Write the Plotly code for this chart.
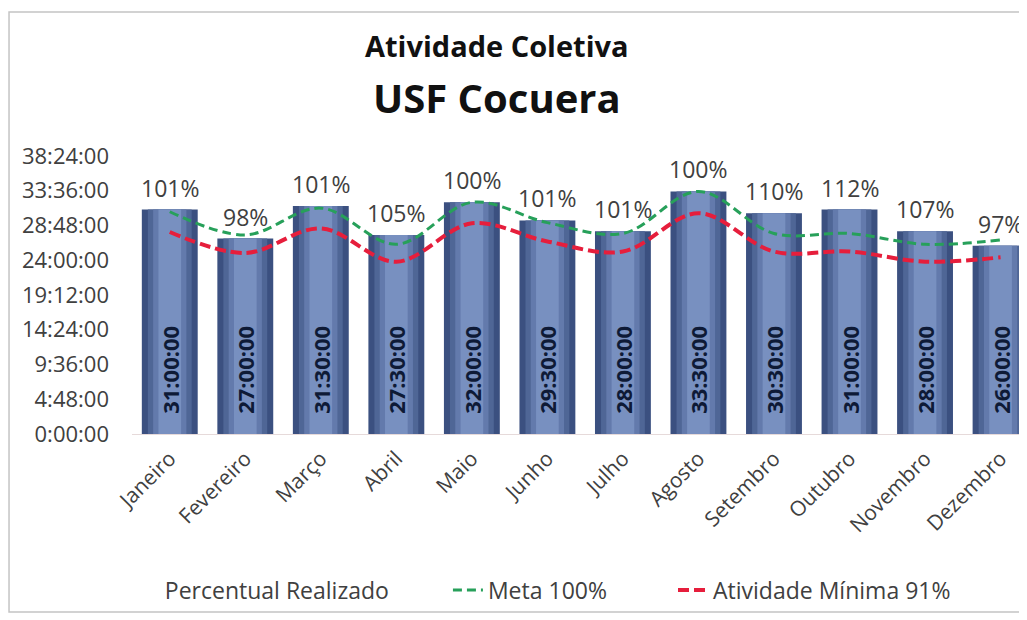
import plotly.graph_objects as go

# Dados (horas decimais)
meses = ['Janeiro', 'Fevereiro', 'Março', 'Abril', 'Maio', 'Junho',
         'Julho', 'Agosto', 'Setembro', 'Outubro', 'Novembro', 'Dezembro']
realizado = [31.0, 27.0, 31.5, 27.5, 32.0, 29.5, 28.0, 33.5, 30.5, 31.0, 28.0, 26.0]
realizado_txt = ['31:00:00', '27:00:00', '31:30:00', '27:30:00', '32:00:00', '29:30:00',
                 '28:00:00', '33:30:00', '30:30:00', '31:00:00', '28:00:00', '26:00:00']
percentual = ['101%', '98%', '101%', '105%', '100%', '101%',
              '101%', '100%', '110%', '112%', '107%', '97%']
meta = [30.7, 27.5, 31.2, 26.2, 32.0, 29.2, 27.7, 33.5, 27.7, 27.7, 26.2, 26.8]
minima = [27.9, 25.0, 28.4, 23.8, 29.1, 26.6, 25.2, 30.5, 25.2, 25.2, 23.8, 24.4]

y_ticks = [0, 4.8, 9.6, 14.4, 19.2, 24.0, 28.8, 33.6, 38.4]
y_ticktext = ['0:00:00', '4:48:00', '9:36:00', '14:24:00', '19:12:00',
              '24:00:00', '28:48:00', '33:36:00', '38:24:00']

FONT = 'Open Sans'
GRAY = '#404040'

fig = go.Figure()

# barras "cilíndricas": camadas sobrepostas para imitar o degradê
fig.add_trace(go.Bar(x=meses, y=realizado, width=0.74, showlegend=False,
                     marker=dict(color='#3b5080', line=dict(width=0)), hoverinfo='skip'))
fig.add_trace(go.Bar(x=meses, y=realizado, width=0.58, showlegend=False,
                     marker=dict(color='#4f6696', line=dict(width=0)), hoverinfo='skip'))
fig.add_trace(go.Bar(x=meses, y=realizado, width=0.44, showlegend=False,
                     marker=dict(color='#637aac', line=dict(width=0)), hoverinfo='skip'))
fig.add_trace(go.Bar(
    x=meses, y=realizado, width=0.30, showlegend=False,
    text=['\u00a0\u00a0\u00a0' + t for t in realizado_txt],
    textposition='inside', insidetextanchor='start', textangle=-90,
    constraintext='none',
    textfont=dict(family=FONT, size=22, color='#0e1a36', weight='bold'),
    marker=dict(color='#7890c0', line=dict(width=0)),
))

# serie "Percentual Realizado" (sem marcador, só rótulos)
fig.add_trace(go.Scatter(
    x=meses, y=realizado, mode='lines',
    line=dict(color='rgba(0,0,0,0)', width=0),
    name='Percentual Realizado', hoverinfo='skip', legend='legend',
))

fig.add_trace(go.Scatter(
    x=meses, y=meta, mode='lines', name='Meta 100%', legend='legend2',
    line=dict(color='#27a05a', width=3, dash='9px,5px', shape='spline'),
))

fig.add_trace(go.Scatter(
    x=meses, y=minima, mode='lines', name='Atividade Mínima 91%', legend='legend3',
    line=dict(color='#e61e3c', width=4, dash='11px,5px', shape='spline'),
))

for m, v, p in zip(meses, realizado, percentual):
    fig.add_annotation(x=m, y=v, text=p, showarrow=False, yshift=22,
                       font=dict(family=FONT, size=23, color=GRAY))

# títulos
fig.add_annotation(text='<b>Atividade Coletiva</b>', xref='paper', yref='paper',
                   x=0.408, y=1.399, yanchor='middle', showarrow=False,
                   font=dict(family=FONT, size=29, color='#111111'))
fig.add_annotation(text='<b>USF Cocuera</b>', xref='paper', yref='paper',
                   x=0.408, y=1.212, yanchor='middle', showarrow=False,
                   font=dict(family=FONT, size=40, color='#111111'))

# moldura do gráfico
fig.add_shape(type='rect', xref='paper', yref='paper',
              x0=-0.1374, x1=1.02, y0=-0.64, y1=1.518,
              line=dict(color='#c4c4c4', width=1.5))

fig.update_xaxes(
    range=[-0.5, 11.35], tickangle=-45, showline=True, linecolor='#e6dada',
    ticks='', ticklabelstandoff=3,
    tickfont=dict(family=FONT, size=21, color=GRAY),
)
fig.update_yaxes(
    range=[0, 38.4], tickvals=y_ticks, ticktext=y_ticktext,
    showgrid=False, zeroline=False, showline=False, ticks='',
    ticklabelstandoff=22,
    tickfont=dict(family=FONT, size=22, color=GRAY),
)

legenda = dict(orientation='h', xanchor='left', y=-0.561, yanchor='middle',
               bgcolor='rgba(0,0,0,0)', font=dict(family=FONT, size=23, color=GRAY))

fig.update_layout(
    width=1019, height=612,
    margin=dict(l=124, r=0, t=148, b=186),
    barmode='overlay',
    plot_bgcolor='white', paper_bgcolor='white',
    legend=dict(legenda, x=-0.008),
    legend2=dict(legenda, x=0.353),
    legend3=dict(legenda, x=0.6045),
)

fig.write_html('out.html')
